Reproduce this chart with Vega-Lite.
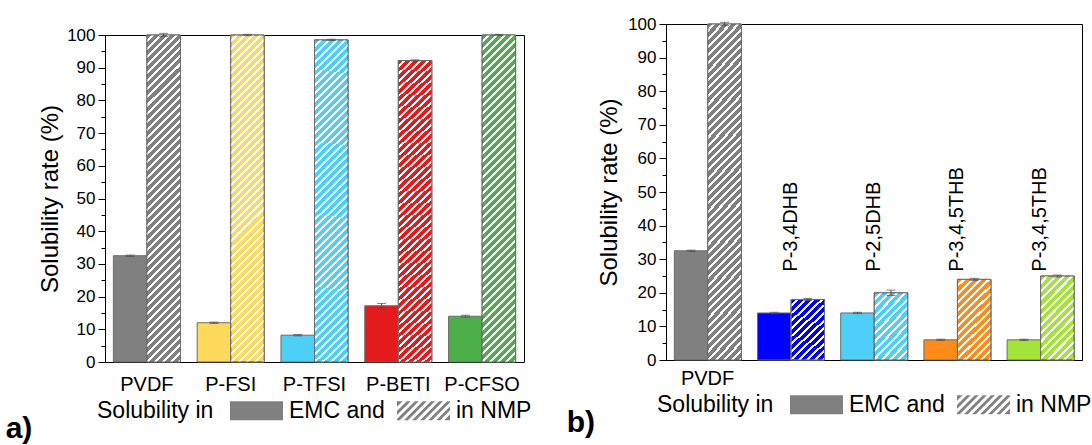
{
"$schema": "https://vega.github.io/schema/vega-lite/v6.json",
"background": "white",
"padding": {"left": 5, "top": 14, "right": 4, "bottom": 0},
"spacing": 34,
"datasets": {
"a": [
{"sample":"PVDF","solvent":"EMC","value":32.5,"err":0.2},
{"sample":"PVDF","solvent":"NMP","value":100,"err":0.5},
{"sample":"P-FSI","solvent":"EMC","value":12,"err":0.2},
{"sample":"P-FSI","solvent":"NMP","value":100,"err":0.2},
{"sample":"P-TFSI","solvent":"EMC","value":8.2,"err":0.2},
{"sample":"P-TFSI","solvent":"NMP","value":98.5,"err":0.2},
{"sample":"P-BETI","solvent":"EMC","value":17.2,"err":0.7},
{"sample":"P-BETI","solvent":"NMP","value":92.2,"err":0.2},
{"sample":"P-CFSO","solvent":"EMC","value":14,"err":0.3},
{"sample":"P-CFSO","solvent":"NMP","value":100,"err":0.2}
],
"b": [
{"sample":"PVDF","name":"PVDF","solvent":"EMC","value":32.5,"err":0.2},
{"sample":"PVDF","name":"PVDF","solvent":"NMP","value":100,"err":0.5},
{"sample":"P-3,4DHB","name":"P-3,4DHB","solvent":"EMC","value":14,"err":0.2},
{"sample":"P-3,4DHB","name":"P-3,4DHB","solvent":"NMP","value":18,"err":0.3},
{"sample":"P-2,5DHB","name":"P-2,5DHB","solvent":"EMC","value":14,"err":0.2},
{"sample":"P-2,5DHB","name":"P-2,5DHB","solvent":"NMP","value":20,"err":0.8},
{"sample":"P-3,4,5THB (i)","name":"P-3,4,5THB","solvent":"EMC","value":6,"err":0.2},
{"sample":"P-3,4,5THB (i)","name":"P-3,4,5THB","solvent":"NMP","value":24,"err":0.3},
{"sample":"P-3,4,5THB (ii)","name":"P-3,4,5THB","solvent":"EMC","value":6,"err":0.2},
{"sample":"P-3,4,5THB (ii)","name":"P-3,4,5THB","solvent":"NMP","value":25,"err":0.3}
]
},
"resolve": {"scale": {"fill": "independent", "shape": "independent", "x": "independent", "y": "independent"}, "legend": {"fill": "independent", "shape": "independent"}},
"hconcat": [
{
"width": 419, "height": 338,
"data": {"name": "a"},
"view": {"stroke": null},
"title": {"text": "a)", "orient": "bottom", "anchor": "start", "frame": "bounds", "fontSize": 30, "fontWeight": "bold", "color": "#000", "dx": -33, "dy": -9, "offset": 0},
"resolve": {"axis": {"x": "independent", "y": "independent"}},
"layer": [
{
"mark": {"type": "bar", "stroke": "#6b6b6b", "strokeWidth": 1},
"encoding": {
"x": {"field": "sample", "type": "nominal", "sort": null, "scale": {"paddingInner": 0.2, "paddingOuter": 0.1}, "axis": {"orient": "bottom", "title": null, "labelAngle": 0, "labelFontSize": 20, "labelPadding": 12, "ticks": false, "domainColor": "#000", "labelColor": "#000"}},
"xOffset": {"field": "solvent", "type": "nominal", "sort": ["EMC", "NMP"], "scale": {"paddingInner": 0, "paddingOuter": 0}},
"y": {"field": "value", "type": "quantitative", "scale": {"domain": [0, 100], "nice": false, "range": [338, 11]}, "axis": {"orient": "left", "title": "Solubility rate (%)", "titleFontSize": 24, "titleFontWeight": "normal", "titleColor": "#000", "titlePadding": 4, "values": [0,10,20,30,40,50,60,70,80,90,100], "tickSize": 7, "labelFontSize": 17, "labelPadding": 3, "labelColor": "#000", "labelFlush": false, "labelOverlap": false, "grid": false, "domainColor": "#000", "tickColor": "#000"}},
"fill": {
"condition": [
{"test": "datum.sample === 'P-FSI'", "value": "#FFD95C"},
{"test": "datum.sample === 'P-TFSI'", "value": "#4DCFF7"},
{"test": "datum.sample === 'P-BETI'", "value": "#E41A1C"},
{"test": "datum.sample === 'P-CFSO'", "value": "#4DAF4A"}
],
"value": "#808080"
}
}
},
{
"transform": [{"filter": "datum.solvent === 'NMP'"}],
"mark": {"type": "bar", "stroke": "#6b6b6b", "strokeWidth": 1, "fill": {"gradient": "linear", "x1": 0, "y1": 0, "x2": 0.1118, "y2": 1.091, "stops": [
{"offset":0,"color":"#fff0"},{"offset":0.01389,"color":"#fff0"},{"offset":0.01389,"color":"#fff"},{"offset":0.02222,"color":"#fff"},
{"offset":0.02222,"color":"#fff0"},{"offset":0.03611,"color":"#fff0"},{"offset":0.03611,"color":"#fff"},{"offset":0.04444,"color":"#fff"},
{"offset":0.04444,"color":"#fff0"},{"offset":0.05833,"color":"#fff0"},{"offset":0.05833,"color":"#fff"},{"offset":0.06667,"color":"#fff"},
{"offset":0.06667,"color":"#fff0"},{"offset":0.08056,"color":"#fff0"},{"offset":0.08056,"color":"#fff"},{"offset":0.08889,"color":"#fff"},
{"offset":0.08889,"color":"#fff0"},{"offset":0.10278,"color":"#fff0"},{"offset":0.10278,"color":"#fff"},{"offset":0.11111,"color":"#fff"},
{"offset":0.11111,"color":"#fff0"},{"offset":0.125,"color":"#fff0"},{"offset":0.125,"color":"#fff"},{"offset":0.13333,"color":"#fff"},
{"offset":0.13333,"color":"#fff0"},{"offset":0.14722,"color":"#fff0"},{"offset":0.14722,"color":"#fff"},{"offset":0.15556,"color":"#fff"},
{"offset":0.15556,"color":"#fff0"},{"offset":0.16944,"color":"#fff0"},{"offset":0.16944,"color":"#fff"},{"offset":0.17778,"color":"#fff"},
{"offset":0.17778,"color":"#fff0"},{"offset":0.19167,"color":"#fff0"},{"offset":0.19167,"color":"#fff"},{"offset":0.2,"color":"#fff"},
{"offset":0.2,"color":"#fff0"},{"offset":0.21389,"color":"#fff0"},{"offset":0.21389,"color":"#fff"},{"offset":0.22222,"color":"#fff"},
{"offset":0.22222,"color":"#fff0"},{"offset":0.23611,"color":"#fff0"},{"offset":0.23611,"color":"#fff"},{"offset":0.24444,"color":"#fff"},
{"offset":0.24444,"color":"#fff0"},{"offset":0.25833,"color":"#fff0"},{"offset":0.25833,"color":"#fff"},{"offset":0.26667,"color":"#fff"},
{"offset":0.26667,"color":"#fff0"},{"offset":0.28056,"color":"#fff0"},{"offset":0.28056,"color":"#fff"},{"offset":0.28889,"color":"#fff"},
{"offset":0.28889,"color":"#fff0"},{"offset":0.30278,"color":"#fff0"},{"offset":0.30278,"color":"#fff"},{"offset":0.31111,"color":"#fff"},
{"offset":0.31111,"color":"#fff0"},{"offset":0.325,"color":"#fff0"},{"offset":0.325,"color":"#fff"},{"offset":0.33333,"color":"#fff"},
{"offset":0.33333,"color":"#fff0"},{"offset":0.34722,"color":"#fff0"},{"offset":0.34722,"color":"#fff"},{"offset":0.35556,"color":"#fff"},
{"offset":0.35556,"color":"#fff0"},{"offset":0.36944,"color":"#fff0"},{"offset":0.36944,"color":"#fff"},{"offset":0.37778,"color":"#fff"},
{"offset":0.37778,"color":"#fff0"},{"offset":0.39167,"color":"#fff0"},{"offset":0.39167,"color":"#fff"},{"offset":0.4,"color":"#fff"},
{"offset":0.4,"color":"#fff0"},{"offset":0.41389,"color":"#fff0"},{"offset":0.41389,"color":"#fff"},{"offset":0.42222,"color":"#fff"},
{"offset":0.42222,"color":"#fff0"},{"offset":0.43611,"color":"#fff0"},{"offset":0.43611,"color":"#fff"},{"offset":0.44444,"color":"#fff"},
{"offset":0.44444,"color":"#fff0"},{"offset":0.45833,"color":"#fff0"},{"offset":0.45833,"color":"#fff"},{"offset":0.46667,"color":"#fff"},
{"offset":0.46667,"color":"#fff0"},{"offset":0.48056,"color":"#fff0"},{"offset":0.48056,"color":"#fff"},{"offset":0.48889,"color":"#fff"},
{"offset":0.48889,"color":"#fff0"},{"offset":0.50278,"color":"#fff0"},{"offset":0.50278,"color":"#fff"},{"offset":0.51111,"color":"#fff"},
{"offset":0.51111,"color":"#fff0"},{"offset":0.525,"color":"#fff0"},{"offset":0.525,"color":"#fff"},{"offset":0.53333,"color":"#fff"},
{"offset":0.53333,"color":"#fff0"},{"offset":0.54722,"color":"#fff0"},{"offset":0.54722,"color":"#fff"},{"offset":0.55556,"color":"#fff"},
{"offset":0.55556,"color":"#fff0"},{"offset":0.56944,"color":"#fff0"},{"offset":0.56944,"color":"#fff"},{"offset":0.57778,"color":"#fff"},
{"offset":0.57778,"color":"#fff0"},{"offset":0.59167,"color":"#fff0"},{"offset":0.59167,"color":"#fff"},{"offset":0.6,"color":"#fff"},
{"offset":0.6,"color":"#fff0"},{"offset":0.61389,"color":"#fff0"},{"offset":0.61389,"color":"#fff"},{"offset":0.62222,"color":"#fff"},
{"offset":0.62222,"color":"#fff0"},{"offset":0.63611,"color":"#fff0"},{"offset":0.63611,"color":"#fff"},{"offset":0.64444,"color":"#fff"},
{"offset":0.64444,"color":"#fff0"},{"offset":0.65833,"color":"#fff0"},{"offset":0.65833,"color":"#fff"},{"offset":0.66667,"color":"#fff"},
{"offset":0.66667,"color":"#fff0"},{"offset":0.68056,"color":"#fff0"},{"offset":0.68056,"color":"#fff"},{"offset":0.68889,"color":"#fff"},
{"offset":0.68889,"color":"#fff0"},{"offset":0.70278,"color":"#fff0"},{"offset":0.70278,"color":"#fff"},{"offset":0.71111,"color":"#fff"},
{"offset":0.71111,"color":"#fff0"},{"offset":0.725,"color":"#fff0"},{"offset":0.725,"color":"#fff"},{"offset":0.73333,"color":"#fff"},
{"offset":0.73333,"color":"#fff0"},{"offset":0.74722,"color":"#fff0"},{"offset":0.74722,"color":"#fff"},{"offset":0.75556,"color":"#fff"},
{"offset":0.75556,"color":"#fff0"},{"offset":0.76944,"color":"#fff0"},{"offset":0.76944,"color":"#fff"},{"offset":0.77778,"color":"#fff"},
{"offset":0.77778,"color":"#fff0"},{"offset":0.79167,"color":"#fff0"},{"offset":0.79167,"color":"#fff"},{"offset":0.8,"color":"#fff"},
{"offset":0.8,"color":"#fff0"},{"offset":0.81389,"color":"#fff0"},{"offset":0.81389,"color":"#fff"},{"offset":0.82222,"color":"#fff"},
{"offset":0.82222,"color":"#fff0"},{"offset":0.83611,"color":"#fff0"},{"offset":0.83611,"color":"#fff"},{"offset":0.84444,"color":"#fff"},
{"offset":0.84444,"color":"#fff0"},{"offset":0.85833,"color":"#fff0"},{"offset":0.85833,"color":"#fff"},{"offset":0.86667,"color":"#fff"},
{"offset":0.86667,"color":"#fff0"},{"offset":0.88056,"color":"#fff0"},{"offset":0.88056,"color":"#fff"},{"offset":0.88889,"color":"#fff"},
{"offset":0.88889,"color":"#fff0"},{"offset":0.90278,"color":"#fff0"},{"offset":0.90278,"color":"#fff"},{"offset":0.91111,"color":"#fff"},
{"offset":0.91111,"color":"#fff0"},{"offset":0.925,"color":"#fff0"},{"offset":0.925,"color":"#fff"},{"offset":0.93333,"color":"#fff"},
{"offset":0.93333,"color":"#fff0"},{"offset":0.94722,"color":"#fff0"},{"offset":0.94722,"color":"#fff"},{"offset":0.95556,"color":"#fff"},
{"offset":0.95556,"color":"#fff0"},{"offset":0.96944,"color":"#fff0"},{"offset":0.96944,"color":"#fff"},{"offset":0.97778,"color":"#fff"},
{"offset":0.97778,"color":"#fff0"},{"offset":0.99167,"color":"#fff0"},{"offset":0.99167,"color":"#fff"},{"offset":1,"color":"#fff"}
]}},
"encoding": {
"x": {"field": "sample", "type": "nominal", "sort": null, "axis": {"orient": "top", "labels": false, "ticks": false, "domain": true, "domainColor": "#000", "title": null, "offset": -11}},
"xOffset": {"field": "solvent", "type": "nominal", "sort": ["EMC", "NMP"]},
"y": {"field": "value", "type": "quantitative", "axis": {"orient": "left", "title": null, "values": [5,15,25,35,45,55,65,75,85,95], "tickSize": 4, "labels": false, "domain": false, "grid": false, "tickColor": "#000"}}
}
},
{
"mark": {"type": "errorbar", "color": "#4d4d4d", "ticks": {"size": 9, "thickness": 1}, "thickness": 1},
"encoding": {
"x": {"field": "sample", "type": "nominal", "sort": null, "axis": null},
"xOffset": {"field": "solvent", "type": "nominal", "sort": ["EMC", "NMP"]},
"y": {"field": "value", "type": "quantitative", "axis": {"orient": "right", "title": null, "labels": false, "ticks": false, "domain": true, "domainColor": "#000", "grid": false}},
"yError": {"field": "err"}
}
},
{
"mark": {"type": "point", "filled": true, "opacity": 0, "size": 361},
"encoding": {
"x": {"field": "sample", "type": "nominal", "sort": null, "axis": null},
"xOffset": {"field": "solvent", "type": "nominal", "sort": ["EMC", "NMP"]},
"y": {"field": "value", "type": "quantitative", "axis": null},
"fill": {"field": "solvent", "type": "nominal", "scale": {"domain": ["EMC", "NMP"], "range": ["#808080", "#808080"]},
"legend": {"title": "Solubility in", "orient": "bottom", "direction": "horizontal", "titleOrient": "left", "titleAnchor": "middle", "titleBaseline": "middle", "titleFontSize": 23, "titleFontWeight": "normal", "titleColor": "#000", "titlePadding": 31, "labelFontSize": 23, "labelColor": "#000", "labelOffset": 21, "columnPadding": 9, "labelLimit": 300, "symbolSize": 361, "symbolStrokeColor": "#707070", "symbolStrokeWidth": 1, "symbolOpacity": 1, "offset": 5, "labelExpr": "datum.value === 'EMC' ? 'EMC and' : 'in NMP'"}},
"shape": {"field": "solvent", "type": "nominal", "scale": {"domain": ["EMC", "NMP"], "range": ["M-2.79,-1L2.79,-1L2.79,1L-2.79,1Z", "M-2.79,-1L2.79,-1L2.79,1L-2.79,1ZM-2.2,-1L-2.79,-0.41L-2.79,0.03L-1.76,-1ZM-1.35,-1L-2.79,0.44L-2.79,0.88L-0.91,-1ZM-0.5,-1L-2.5,1L-2.06,1L-0.06,-1ZM0.35,-1L-1.65,1L-1.21,1L0.79,-1ZM1.2,-1L-0.8,1L-0.36,1L1.64,-1ZM2.05,-1L0.05,1L0.49,1L2.49,-1ZM2.79,-0.89L0.9,1L1.34,1L2.79,-0.45ZM2.79,-0.04L1.75,1L2.19,1L2.79,0.4Z"]},
"legend": {"title": "Solubility in", "orient": "bottom", "direction": "horizontal", "titleOrient": "left", "titleAnchor": "middle", "titleBaseline": "middle", "titleFontSize": 23, "titleFontWeight": "normal", "titleColor": "#000", "titlePadding": 31, "labelFontSize": 23, "labelColor": "#000", "labelOffset": 21, "columnPadding": 9, "labelLimit": 300, "symbolSize": 361, "symbolStrokeColor": "#707070", "symbolStrokeWidth": 1, "symbolOpacity": 1, "offset": 5, "labelExpr": "datum.value === 'EMC' ? 'EMC and' : 'in NMP'"}}
}
}
]
},
{
"width": 416, "height": 336,
"data": {"name": "b"},
"title": {"text": "b)", "orient": "bottom", "anchor": "start", "frame": "bounds", "fontSize": 30, "fontWeight": "bold", "color": "#000", "dx": -31, "dy": -9, "offset": 0},
"resolve": {"axis": {"x": "independent", "y": "independent"}},
"layer": [
{
"mark": {"type": "bar", "stroke": "#6b6b6b", "strokeWidth": 1},
"encoding": {
"x": {"field": "sample", "type": "nominal", "sort": null, "scale": {"paddingInner": 0.2, "paddingOuter": 0.1}, "axis": {"orient": "bottom", "title": null, "labelAngle": 0, "labelFontSize": 20, "labelPadding": 8, "ticks": false, "domainColor": "#000", "labelColor": "#000", "labelExpr": "datum.value === 'PVDF' ? 'PVDF' : ''"}},
"xOffset": {"field": "solvent", "type": "nominal", "sort": ["EMC", "NMP"], "scale": {"paddingInner": 0, "paddingOuter": 0}},
"y": {"field": "value", "type": "quantitative", "scale": {"domain": [0, 100], "nice": false}, "axis": {"orient": "left", "title": "Solubility rate (%)", "titleFontSize": 24, "titleFontWeight": "normal", "titleColor": "#000", "titlePadding": 6, "values": [0,10,20,30,40,50,60,70,80,90,100], "tickSize": 7, "labelFontSize": 17, "labelPadding": 3, "labelColor": "#000", "labelFlush": false, "labelOverlap": false, "grid": false, "domainColor": "#000", "tickColor": "#000"}},
"fill": {
"condition": [
{"test": "datum.sample === 'P-3,4DHB'", "value": "#0000FF"},
{"test": "datum.sample === 'P-2,5DHB'", "value": "#4DCFF7"},
{"test": "datum.sample === 'P-3,4,5THB (i)'", "value": "#FF8C1A"},
{"test": "datum.sample === 'P-3,4,5THB (ii)'", "value": "#A3E33A"}
],
"value": "#808080"
}
}
},
{
"transform": [{"filter": "datum.solvent === 'NMP'"}],
"mark": {"type": "bar", "stroke": "#6b6b6b", "strokeWidth": 1},
"encoding": {
"x": {"field": "sample", "type": "nominal", "sort": null, "axis": null},
"xOffset": {"field": "solvent", "type": "nominal", "sort": ["EMC", "NMP"]},
"y": {"field": "value", "type": "quantitative", "axis": {"orient": "left", "title": null, "values": [5,15,25,35,45,55,65,75,85,95], "tickSize": 4, "labels": false, "domain": false, "grid": false, "tickColor": "#000"}},
"fill": {
"condition": [
{"test": "datum.value < 22", "value": {"gradient": "linear", "x1": 0, "y1": 0, "x2": 0.6223, "y2": 1.1967, "stops": [
{"offset":0,"color":"#fff0"},{"offset":0.05208,"color":"#fff0"},{"offset":0.05208,"color":"#fff"},{"offset":0.08333,"color":"#fff"},
{"offset":0.08333,"color":"#fff0"},{"offset":0.13542,"color":"#fff0"},{"offset":0.13542,"color":"#fff"},{"offset":0.16667,"color":"#fff"},
{"offset":0.16667,"color":"#fff0"},{"offset":0.21875,"color":"#fff0"},{"offset":0.21875,"color":"#fff"},{"offset":0.25,"color":"#fff"},
{"offset":0.25,"color":"#fff0"},{"offset":0.30208,"color":"#fff0"},{"offset":0.30208,"color":"#fff"},{"offset":0.33333,"color":"#fff"},
{"offset":0.33333,"color":"#fff0"},{"offset":0.38542,"color":"#fff0"},{"offset":0.38542,"color":"#fff"},{"offset":0.41667,"color":"#fff"},
{"offset":0.41667,"color":"#fff0"},{"offset":0.46875,"color":"#fff0"},{"offset":0.46875,"color":"#fff"},{"offset":0.5,"color":"#fff"},
{"offset":0.5,"color":"#fff0"},{"offset":0.55208,"color":"#fff0"},{"offset":0.55208,"color":"#fff"},{"offset":0.58333,"color":"#fff"},
{"offset":0.58333,"color":"#fff0"},{"offset":0.63542,"color":"#fff0"},{"offset":0.63542,"color":"#fff"},{"offset":0.66667,"color":"#fff"},
{"offset":0.66667,"color":"#fff0"},{"offset":0.71875,"color":"#fff0"},{"offset":0.71875,"color":"#fff"},{"offset":0.75,"color":"#fff"},
{"offset":0.75,"color":"#fff0"},{"offset":0.80208,"color":"#fff0"},{"offset":0.80208,"color":"#fff"},{"offset":0.83333,"color":"#fff"},
{"offset":0.83333,"color":"#fff0"},{"offset":0.88542,"color":"#fff0"},{"offset":0.88542,"color":"#fff"},{"offset":0.91667,"color":"#fff"},
{"offset":0.91667,"color":"#fff0"},{"offset":0.96875,"color":"#fff0"},{"offset":0.96875,"color":"#fff"},{"offset":1,"color":"#fff"}
]}},
{"test": "datum.value < 50", "value": {"gradient": "linear", "x1": 0, "y1": 0, "x2": 0.4882, "y2": 1.2072, "stops": [
{"offset":0,"color":"#fff0"},{"offset":0.04464,"color":"#fff0"},{"offset":0.04464,"color":"#fff"},{"offset":0.07143,"color":"#fff"},
{"offset":0.07143,"color":"#fff0"},{"offset":0.11607,"color":"#fff0"},{"offset":0.11607,"color":"#fff"},{"offset":0.14286,"color":"#fff"},
{"offset":0.14286,"color":"#fff0"},{"offset":0.1875,"color":"#fff0"},{"offset":0.1875,"color":"#fff"},{"offset":0.21429,"color":"#fff"},
{"offset":0.21429,"color":"#fff0"},{"offset":0.25893,"color":"#fff0"},{"offset":0.25893,"color":"#fff"},{"offset":0.28571,"color":"#fff"},
{"offset":0.28571,"color":"#fff0"},{"offset":0.33036,"color":"#fff0"},{"offset":0.33036,"color":"#fff"},{"offset":0.35714,"color":"#fff"},
{"offset":0.35714,"color":"#fff0"},{"offset":0.40179,"color":"#fff0"},{"offset":0.40179,"color":"#fff"},{"offset":0.42857,"color":"#fff"},
{"offset":0.42857,"color":"#fff0"},{"offset":0.47321,"color":"#fff0"},{"offset":0.47321,"color":"#fff"},{"offset":0.5,"color":"#fff"},
{"offset":0.5,"color":"#fff0"},{"offset":0.54464,"color":"#fff0"},{"offset":0.54464,"color":"#fff"},{"offset":0.57143,"color":"#fff"},
{"offset":0.57143,"color":"#fff0"},{"offset":0.61607,"color":"#fff0"},{"offset":0.61607,"color":"#fff"},{"offset":0.64286,"color":"#fff"},
{"offset":0.64286,"color":"#fff0"},{"offset":0.6875,"color":"#fff0"},{"offset":0.6875,"color":"#fff"},{"offset":0.71429,"color":"#fff"},
{"offset":0.71429,"color":"#fff0"},{"offset":0.75893,"color":"#fff0"},{"offset":0.75893,"color":"#fff"},{"offset":0.78571,"color":"#fff"},
{"offset":0.78571,"color":"#fff0"},{"offset":0.83036,"color":"#fff0"},{"offset":0.83036,"color":"#fff"},{"offset":0.85714,"color":"#fff"},
{"offset":0.85714,"color":"#fff0"},{"offset":0.90179,"color":"#fff0"},{"offset":0.90179,"color":"#fff"},{"offset":0.92857,"color":"#fff"},
{"offset":0.92857,"color":"#fff0"},{"offset":0.97321,"color":"#fff0"},{"offset":0.97321,"color":"#fff"},{"offset":1,"color":"#fff"}
]}}
],
"value": {"gradient": "linear", "x1": 0, "y1": 0, "x2": 0.1118, "y2": 1.091, "stops": [
{"offset":0,"color":"#fff0"},{"offset":0.01389,"color":"#fff0"},{"offset":0.01389,"color":"#fff"},{"offset":0.02222,"color":"#fff"},
{"offset":0.02222,"color":"#fff0"},{"offset":0.03611,"color":"#fff0"},{"offset":0.03611,"color":"#fff"},{"offset":0.04444,"color":"#fff"},
{"offset":0.04444,"color":"#fff0"},{"offset":0.05833,"color":"#fff0"},{"offset":0.05833,"color":"#fff"},{"offset":0.06667,"color":"#fff"},
{"offset":0.06667,"color":"#fff0"},{"offset":0.08056,"color":"#fff0"},{"offset":0.08056,"color":"#fff"},{"offset":0.08889,"color":"#fff"},
{"offset":0.08889,"color":"#fff0"},{"offset":0.10278,"color":"#fff0"},{"offset":0.10278,"color":"#fff"},{"offset":0.11111,"color":"#fff"},
{"offset":0.11111,"color":"#fff0"},{"offset":0.125,"color":"#fff0"},{"offset":0.125,"color":"#fff"},{"offset":0.13333,"color":"#fff"},
{"offset":0.13333,"color":"#fff0"},{"offset":0.14722,"color":"#fff0"},{"offset":0.14722,"color":"#fff"},{"offset":0.15556,"color":"#fff"},
{"offset":0.15556,"color":"#fff0"},{"offset":0.16944,"color":"#fff0"},{"offset":0.16944,"color":"#fff"},{"offset":0.17778,"color":"#fff"},
{"offset":0.17778,"color":"#fff0"},{"offset":0.19167,"color":"#fff0"},{"offset":0.19167,"color":"#fff"},{"offset":0.2,"color":"#fff"},
{"offset":0.2,"color":"#fff0"},{"offset":0.21389,"color":"#fff0"},{"offset":0.21389,"color":"#fff"},{"offset":0.22222,"color":"#fff"},
{"offset":0.22222,"color":"#fff0"},{"offset":0.23611,"color":"#fff0"},{"offset":0.23611,"color":"#fff"},{"offset":0.24444,"color":"#fff"},
{"offset":0.24444,"color":"#fff0"},{"offset":0.25833,"color":"#fff0"},{"offset":0.25833,"color":"#fff"},{"offset":0.26667,"color":"#fff"},
{"offset":0.26667,"color":"#fff0"},{"offset":0.28056,"color":"#fff0"},{"offset":0.28056,"color":"#fff"},{"offset":0.28889,"color":"#fff"},
{"offset":0.28889,"color":"#fff0"},{"offset":0.30278,"color":"#fff0"},{"offset":0.30278,"color":"#fff"},{"offset":0.31111,"color":"#fff"},
{"offset":0.31111,"color":"#fff0"},{"offset":0.325,"color":"#fff0"},{"offset":0.325,"color":"#fff"},{"offset":0.33333,"color":"#fff"},
{"offset":0.33333,"color":"#fff0"},{"offset":0.34722,"color":"#fff0"},{"offset":0.34722,"color":"#fff"},{"offset":0.35556,"color":"#fff"},
{"offset":0.35556,"color":"#fff0"},{"offset":0.36944,"color":"#fff0"},{"offset":0.36944,"color":"#fff"},{"offset":0.37778,"color":"#fff"},
{"offset":0.37778,"color":"#fff0"},{"offset":0.39167,"color":"#fff0"},{"offset":0.39167,"color":"#fff"},{"offset":0.4,"color":"#fff"},
{"offset":0.4,"color":"#fff0"},{"offset":0.41389,"color":"#fff0"},{"offset":0.41389,"color":"#fff"},{"offset":0.42222,"color":"#fff"},
{"offset":0.42222,"color":"#fff0"},{"offset":0.43611,"color":"#fff0"},{"offset":0.43611,"color":"#fff"},{"offset":0.44444,"color":"#fff"},
{"offset":0.44444,"color":"#fff0"},{"offset":0.45833,"color":"#fff0"},{"offset":0.45833,"color":"#fff"},{"offset":0.46667,"color":"#fff"},
{"offset":0.46667,"color":"#fff0"},{"offset":0.48056,"color":"#fff0"},{"offset":0.48056,"color":"#fff"},{"offset":0.48889,"color":"#fff"},
{"offset":0.48889,"color":"#fff0"},{"offset":0.50278,"color":"#fff0"},{"offset":0.50278,"color":"#fff"},{"offset":0.51111,"color":"#fff"},
{"offset":0.51111,"color":"#fff0"},{"offset":0.525,"color":"#fff0"},{"offset":0.525,"color":"#fff"},{"offset":0.53333,"color":"#fff"},
{"offset":0.53333,"color":"#fff0"},{"offset":0.54722,"color":"#fff0"},{"offset":0.54722,"color":"#fff"},{"offset":0.55556,"color":"#fff"},
{"offset":0.55556,"color":"#fff0"},{"offset":0.56944,"color":"#fff0"},{"offset":0.56944,"color":"#fff"},{"offset":0.57778,"color":"#fff"},
{"offset":0.57778,"color":"#fff0"},{"offset":0.59167,"color":"#fff0"},{"offset":0.59167,"color":"#fff"},{"offset":0.6,"color":"#fff"},
{"offset":0.6,"color":"#fff0"},{"offset":0.61389,"color":"#fff0"},{"offset":0.61389,"color":"#fff"},{"offset":0.62222,"color":"#fff"},
{"offset":0.62222,"color":"#fff0"},{"offset":0.63611,"color":"#fff0"},{"offset":0.63611,"color":"#fff"},{"offset":0.64444,"color":"#fff"},
{"offset":0.64444,"color":"#fff0"},{"offset":0.65833,"color":"#fff0"},{"offset":0.65833,"color":"#fff"},{"offset":0.66667,"color":"#fff"},
{"offset":0.66667,"color":"#fff0"},{"offset":0.68056,"color":"#fff0"},{"offset":0.68056,"color":"#fff"},{"offset":0.68889,"color":"#fff"},
{"offset":0.68889,"color":"#fff0"},{"offset":0.70278,"color":"#fff0"},{"offset":0.70278,"color":"#fff"},{"offset":0.71111,"color":"#fff"},
{"offset":0.71111,"color":"#fff0"},{"offset":0.725,"color":"#fff0"},{"offset":0.725,"color":"#fff"},{"offset":0.73333,"color":"#fff"},
{"offset":0.73333,"color":"#fff0"},{"offset":0.74722,"color":"#fff0"},{"offset":0.74722,"color":"#fff"},{"offset":0.75556,"color":"#fff"},
{"offset":0.75556,"color":"#fff0"},{"offset":0.76944,"color":"#fff0"},{"offset":0.76944,"color":"#fff"},{"offset":0.77778,"color":"#fff"},
{"offset":0.77778,"color":"#fff0"},{"offset":0.79167,"color":"#fff0"},{"offset":0.79167,"color":"#fff"},{"offset":0.8,"color":"#fff"},
{"offset":0.8,"color":"#fff0"},{"offset":0.81389,"color":"#fff0"},{"offset":0.81389,"color":"#fff"},{"offset":0.82222,"color":"#fff"},
{"offset":0.82222,"color":"#fff0"},{"offset":0.83611,"color":"#fff0"},{"offset":0.83611,"color":"#fff"},{"offset":0.84444,"color":"#fff"},
{"offset":0.84444,"color":"#fff0"},{"offset":0.85833,"color":"#fff0"},{"offset":0.85833,"color":"#fff"},{"offset":0.86667,"color":"#fff"},
{"offset":0.86667,"color":"#fff0"},{"offset":0.88056,"color":"#fff0"},{"offset":0.88056,"color":"#fff"},{"offset":0.88889,"color":"#fff"},
{"offset":0.88889,"color":"#fff0"},{"offset":0.90278,"color":"#fff0"},{"offset":0.90278,"color":"#fff"},{"offset":0.91111,"color":"#fff"},
{"offset":0.91111,"color":"#fff0"},{"offset":0.925,"color":"#fff0"},{"offset":0.925,"color":"#fff"},{"offset":0.93333,"color":"#fff"},
{"offset":0.93333,"color":"#fff0"},{"offset":0.94722,"color":"#fff0"},{"offset":0.94722,"color":"#fff"},{"offset":0.95556,"color":"#fff"},
{"offset":0.95556,"color":"#fff0"},{"offset":0.96944,"color":"#fff0"},{"offset":0.96944,"color":"#fff"},{"offset":0.97778,"color":"#fff"},
{"offset":0.97778,"color":"#fff0"},{"offset":0.99167,"color":"#fff0"},{"offset":0.99167,"color":"#fff"},{"offset":1,"color":"#fff"}
]}
}
}
},
{
"mark": {"type": "errorbar", "color": "#4d4d4d", "ticks": {"size": 9, "thickness": 1}, "thickness": 1},
"encoding": {
"x": {"field": "sample", "type": "nominal", "sort": null, "axis": null},
"xOffset": {"field": "solvent", "type": "nominal", "sort": ["EMC", "NMP"]},
"y": {"field": "value", "type": "quantitative", "axis": null},
"yError": {"field": "err"}
}
},
{
"transform": [{"filter": "datum.solvent === 'NMP' && datum.sample !== 'PVDF'"}],
"mark": {"type": "text", "angle": 270, "align": "left", "baseline": "middle", "fontSize": 20, "color": "#000"},
"encoding": {
"x": {"field": "sample", "type": "nominal", "sort": null, "axis": null},
"y": {"datum": 26.3, "type": "quantitative", "axis": null},
"text": {"field": "name"}
}
},
{
"mark": {"type": "point", "filled": true, "opacity": 0, "size": 361},
"encoding": {
"x": {"field": "sample", "type": "nominal", "sort": null, "axis": null},
"xOffset": {"field": "solvent", "type": "nominal", "sort": ["EMC", "NMP"]},
"y": {"field": "value", "type": "quantitative", "axis": null},
"fill": {"field": "solvent", "type": "nominal", "scale": {"domain": ["EMC", "NMP"], "range": ["#808080", "#808080"]},
"legend": {"title": "Solubility in", "orient": "bottom", "direction": "horizontal", "titleOrient": "left", "titleAnchor": "middle", "titleBaseline": "middle", "titleFontSize": 23, "titleFontWeight": "normal", "titleColor": "#000", "titlePadding": 31, "labelFontSize": 23, "labelColor": "#000", "labelOffset": 21, "columnPadding": 9, "labelLimit": 300, "symbolSize": 361, "symbolStrokeColor": "#707070", "symbolStrokeWidth": 1, "symbolOpacity": 1, "offset": 5, "labelExpr": "datum.value === 'EMC' ? 'EMC and' : 'in NMP'"}},
"shape": {"field": "solvent", "type": "nominal", "scale": {"domain": ["EMC", "NMP"], "range": ["M-2.79,-1L2.79,-1L2.79,1L-2.79,1Z", "M-2.79,-1L2.79,-1L2.79,1L-2.79,1ZM-2.2,-1L-2.79,-0.41L-2.79,0.03L-1.76,-1ZM-1.35,-1L-2.79,0.44L-2.79,0.88L-0.91,-1ZM-0.5,-1L-2.5,1L-2.06,1L-0.06,-1ZM0.35,-1L-1.65,1L-1.21,1L0.79,-1ZM1.2,-1L-0.8,1L-0.36,1L1.64,-1ZM2.05,-1L0.05,1L0.49,1L2.49,-1ZM2.79,-0.89L0.9,1L1.34,1L2.79,-0.45ZM2.79,-0.04L1.75,1L2.19,1L2.79,0.4Z"]},
"legend": {"title": "Solubility in", "orient": "bottom", "direction": "horizontal", "titleOrient": "left", "titleAnchor": "middle", "titleBaseline": "middle", "titleFontSize": 23, "titleFontWeight": "normal", "titleColor": "#000", "titlePadding": 31, "labelFontSize": 23, "labelColor": "#000", "labelOffset": 21, "columnPadding": 9, "labelLimit": 300, "symbolSize": 361, "symbolStrokeColor": "#707070", "symbolStrokeWidth": 1, "symbolOpacity": 1, "offset": 5, "labelExpr": "datum.value === 'EMC' ? 'EMC and' : 'in NMP'"}}
}
}
]
}
],
"config": {
"font": "Liberation Sans",
"view": {"stroke": "#000", "strokeWidth": 1},
"axis": {"grid": false},
"legend": {"layout": {"bottom": {"anchor": "middle"}}}
}
}
